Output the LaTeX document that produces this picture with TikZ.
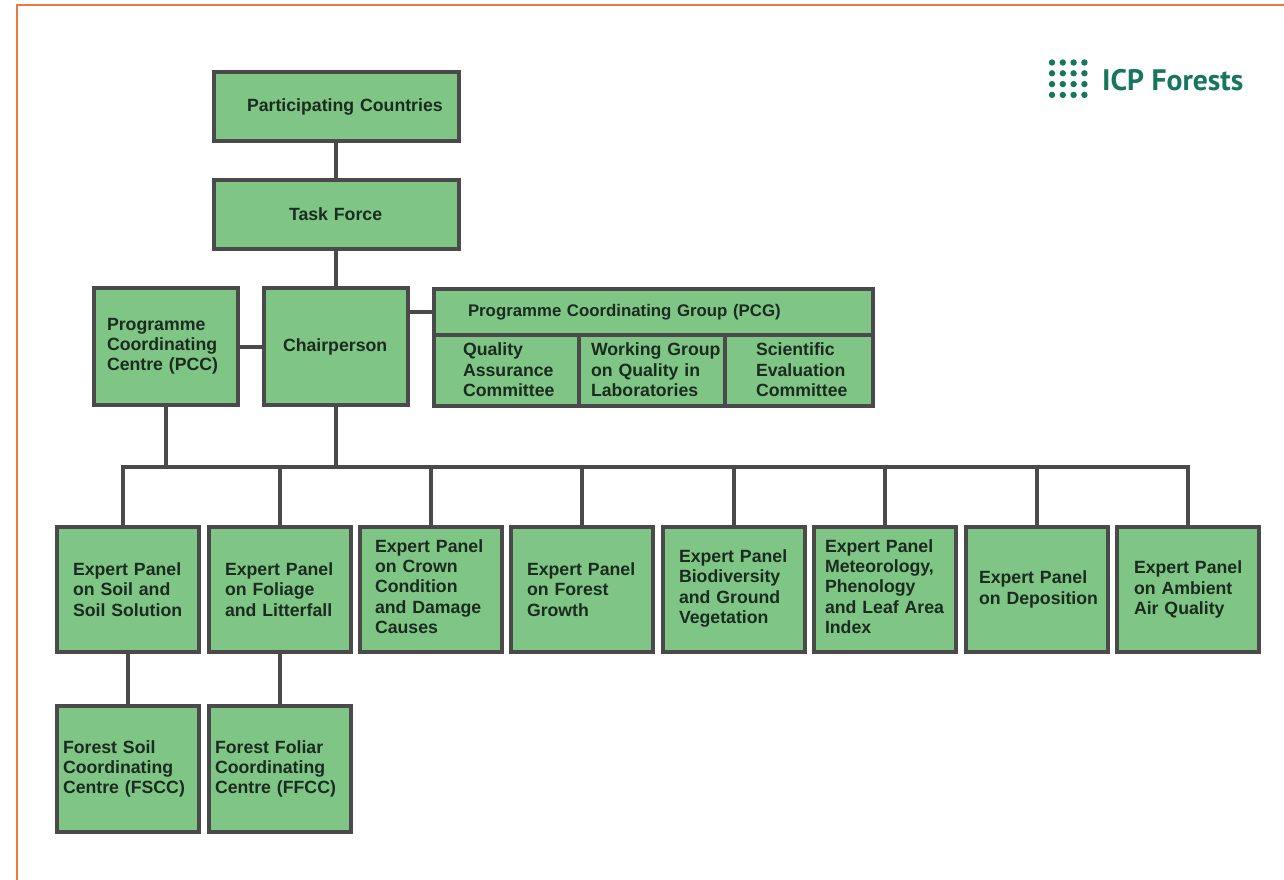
\documentclass[tikz,border=0pt]{standalone}
\usepackage{fontspec}
\setmainfont{Liberation Sans}
\newfontfamily\logofont{PT Sans}
\lefthyphenmin=64
\definecolor{boxgreen}{HTML}{7FC585}
\definecolor{edgegray}{HTML}{4A4A4A}
\definecolor{inkdark}{HTML}{1C2B20}
\definecolor{rimorange}{HTML}{EC7A3C}
\definecolor{logogreen}{HTML}{17765F}
\tikzset{
  boxnode/.style={draw=edgegray,fill=boxgreen,line width=3.6pt,text=inkdark,font=\fontsize{17.7}{20.2}\selectfont\bfseries,align=left,inner ysep=0pt,outer sep=0pt},
  headnode/.style={font=\fontsize{16.8}{20.2}\selectfont\bfseries},
  linkline/.style={draw=edgegray,line width=4.4pt},
  rimline/.style={draw=rimorange,line width=2pt},
  logodot/.style={circle,fill=logogreen,inner sep=0pt,minimum size=6.4pt},
}
% [options], name, x0, y0, x1, y1, text left, text  (x0..y1 are the outer edges of the frame)
\newcommand{\bx}[8][]{%
  \pgfmathsetmacro{\bw}{#5-#3-3.6}\pgfmathsetmacro{\bh}{#6-#4-3.6}\pgfmathsetmacro{\bp}{#7-#3-1.8}%
  \pgfmathsetmacro{\bt}{\bw-2*\bp}\pgfmathsetmacro{\bcx}{(#3+#5)/2}\pgfmathsetmacro{\bcy}{(#4+#6)/2}%
  \node[boxnode,minimum height=\bh pt,text width=\bt pt,inner xsep=\bp pt,#1] (#2) at (\bcx,\bcy) {#8};%
}
\begin{document}
\begin{tikzpicture}[x=1pt,y=-1pt]
\useasboundingbox (0,0) rectangle (1284,880);
\fill[white] (0,0) rectangle (1284,880);
\coordinate (rimA) at (16.5,880);
\coordinate (rimB) at (16.5,5);
\coordinate (rimC) at (1284,5);
\draw[rimline] (rimA) -- (rimB) -- (rimC);
\coordinate (bus) at (336,467);
\coordinate (busL) at (123,467);
\coordinate (busR) at (1188,467);
\coordinate (busP) at (166,467);
\coordinate (d2) at (280,467);
\coordinate (d3) at (431,467);
\coordinate (d4) at (582,467);
\coordinate (d5) at (734,467);
\coordinate (d6) at (885,467);
\coordinate (d7) at (1037,467);
% boxes
\bx{pc}{212}{70}{461}{143}{247}{Participating~Countries}
\bx{tf}{212}{178}{461}{251}{289}{Task~Force}
\bx{pcc}{92}{286}{240}{407}{107}{Programme\\Coordinating\\Centre~(PCC)}
\bx{ch}{262}{286}{410}{407}{283}{Chairperson}
\bx[headnode]{pcg}{432}{287}{875}{336.8}{468}{Programme~Coordinating~Group~(PCG)}
\bx[text depth=42.4pt]{qa}{432}{333.2}{580.8}{408}{463}{Quality\\Assurance\\Committee}
\bx[text depth=42.4pt]{wg}{577.2}{333.2}{726.8}{408}{591}{Working~Group\\on~Quality~in\\Laboratories}
\bx[text depth=42.4pt]{se}{723.2}{333.2}{875}{408}{756}{Scientific\\Evaluation\\Committee}
\bx{e1}{55}{525}{201}{654}{73}{Expert~Panel\\on~Soil~and\\Soil~Solution}
\bx{e2}{207}{525}{353}{654}{225}{Expert~Panel\\on~Foliage\\and~Litterfall}
\bx[text depth=86.8pt]{e3}{358}{525}{504}{654}{375}{Expert~Panel\\on~Crown\\Condition\\and~Damage\\Causes}
\bx{e4}{509}{525}{655}{654}{527}{Expert~Panel\\on~Forest\\Growth}
\bx[text depth=66.3pt]{e5}{661}{525}{807}{654}{679}{Expert~Panel\\Biodiversity\\and~Ground\\Vegetation}
\bx[text depth=86.8pt]{e6}{812}{525}{958}{654}{825}{Expert~Panel\\Meteorology,\\Phenology\\and~Leaf~Area\\Index}
\bx{e7}{964}{525}{1110}{654}{979}{Expert~Panel\\on~Deposition}
\bx{e8}{1115}{525}{1261}{654}{1134}{Expert~Panel\\on~Ambient\\Air~Quality}
\bx{f1}{55}{704}{201}{834}{63}{Forest~Soil\\Coordinating\\Centre~(FSCC)}
\bx{f2}{207}{704}{353}{834}{215}{Forest~Foliar\\Coordinating\\Centre~(FFCC)}
% connectors
\draw[linkline] (pc.south -| bus) -- (tf.north -| bus);
\draw[linkline] (tf.south -| bus) -- (ch.north -| bus);
\draw[linkline] (ch.south -| bus) -- (bus);
\draw[linkline,line cap=rect] (busL) -- (busR);
\draw[linkline] (pcc.south -| busP) -- (busP);
\draw[linkline] (pcc.east |- 0,347) -- (ch.west |- 0,347);
\draw[linkline] (ch.east |- pcg.west) -- (pcg.west);
\draw[linkline] (busL) -- (busL |- e1.north);
\draw[linkline] (d2) -- (d2 |- e2.north);
\draw[linkline] (d3) -- (d3 |- e3.north);
\draw[linkline] (d4) -- (d4 |- e4.north);
\draw[linkline] (d5) -- (d5 |- e5.north);
\draw[linkline] (d6) -- (d6 |- e6.north);
\draw[linkline] (d7) -- (d7 |- e7.north);
\draw[linkline] (busR) -- (busR |- e8.north);
\draw[linkline] (e1.south) -- (f1.north);
\draw[linkline] (e2.south) -- (f2.north);
% logo
\foreach \i in {0,1,2,3}{\foreach \j in {0,1,2,3}{
  \node[logodot] (dot\i\j) at ({1052+\i*10.8},{62.5+\j*10.8}) {};
}}
\node[anchor=west,inner sep=0pt,text=logogreen,font=\logofont\fontsize{29.6}{29.6}\selectfont\bfseries] (logo) at (1102,80) {ICP Forests};
\end{tikzpicture}
\end{document}
